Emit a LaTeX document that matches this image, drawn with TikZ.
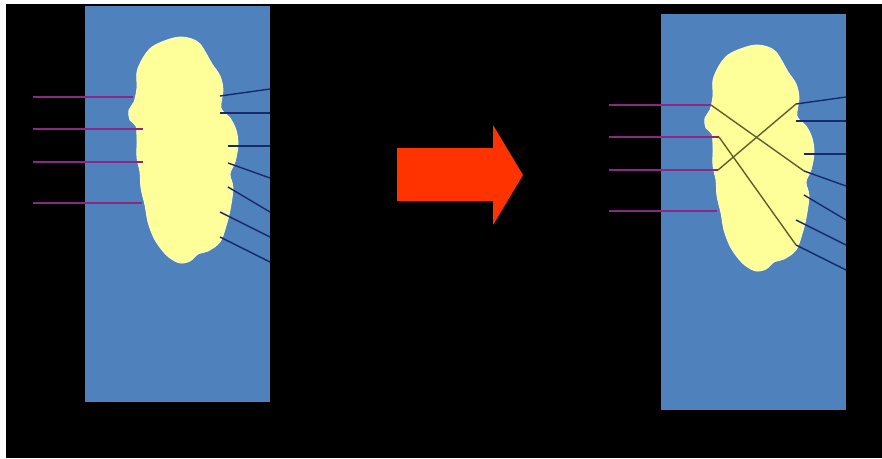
\documentclass[tikz,border=0pt]{standalone}
\usetikzlibrary{positioning}
\definecolor{panelblue}{RGB}{79,129,189}
\definecolor{cloudyellow}{RGB}{255,255,153}
\definecolor{cloudrim}{RGB}{255,255,205}
\definecolor{arrowred}{RGB}{255,51,0}
\definecolor{wirein}{RGB}{140,40,130}
\definecolor{wireout}{RGB}{22,42,105}
\definecolor{wirecross}{RGB}{95,95,45}
\tikzset{
  panel/.style={fill=panelblue, draw=none, inner sep=0pt, anchor=north west,
                minimum width=185pt, minimum height=396pt},
  puff/.style={fill=cloudyellow, draw=cloudrim, line width=0.8pt},
  inwire/.style={draw=wirein, line width=1.6pt},
  outwire/.style={draw=wireout, line width=1.4pt},
  crosswire/.style={draw=wirecross, line width=1.4pt},
  bigarrow/.style={fill=arrowred, draw=none},
}
% outline of the cloud, pixel coordinates of the left panel
\newcommand{\cloudblob}{%
  \filldraw[puff] plot[smooth cycle, tension=0.55] coordinates {
    (167,40) (180,37) (192,39) (200,44) (207,55) (212,64) (220,76) (223,90)
    (221,108) (230,118) (236,130) (238,145) (235,162) (230,174) (233,188)
    (230,210) (226,226) (220,242) (208,251) (198,254) (190,261) (180,263)
    (170,258) (162,250) (154,238) (148,222) (145,205) (141,188) (140,172)
    (137,158) (137,140) (136,126) (130,120) (129,110) (134,102) (137,88)
    (137,72) (143,58) (152,47)};%
}

\begin{document}
\begin{tikzpicture}[x=1pt, y=-1pt]
  \useasboundingbox (0,0) rectangle (882,458);
  \fill[black] (6,4) rectangle (882,458);

  % before
  \node[panel] (panL) at (85,6) {};
  \cloudblob
  \foreach \i/\y/\xe in {1/97/133, 2/129/143, 3/162/143, 4/203/142} {
    \coordinate (inL\i) at (33,\y);
    \coordinate (endL\i) at (\xe,\y);
    \draw[inwire] (inL\i) -- (endL\i);
  }
  \foreach \i/\xa/\ya/\yb in {1/220/96/89, 2/220/113/113, 3/228/146/146,
      4/228/163/178, 5/228/187/212, 6/220/212/237, 7/220/237/262} {
    \coordinate (srcL\i) at (\xa,\ya);
    \coordinate (outL\i) at (270,\yb);
    \draw[outwire] (srcL\i) -- (outL\i);
  }

  % arrow
  \fill[bigarrow] (397,148) -- (493,148) -- (493,125) -- (523,175)
    -- (493,225) -- (493,201) -- (397,201) -- cycle;

  % after
  \node[panel] (panR) at (661,14) {};
  \begin{scope}[shift={(576,8)}]
    \cloudblob
  \end{scope}
  \foreach \i/\y/\xe in {1/105/711, 2/137/719, 3/170/718, 4/211/717} {
    \coordinate (inR\i) at (609,\y);
    \coordinate (endR\i) at (\xe,\y);
    \draw[inwire] (inR\i) -- (endR\i);
  }
  \foreach \i/\xa/\ya/\yb in {1/796/104/97, 2/796/121/121, 3/804/154/154,
      4/804/171/186, 5/804/195/220, 6/796/220/245, 7/796/245/270} {
    \coordinate (srcR\i) at (\xa,\ya);
    \coordinate (outR\i) at (846,\yb);
    \draw[outwire] (srcR\i) -- (outR\i);
  }
  \draw[crosswire] (endR1) -- (srcR4);
  \draw[crosswire] (endR2) -- (srcR7);
  \draw[crosswire] (endR3) -- (srcR1);
\end{tikzpicture}
\end{document}
